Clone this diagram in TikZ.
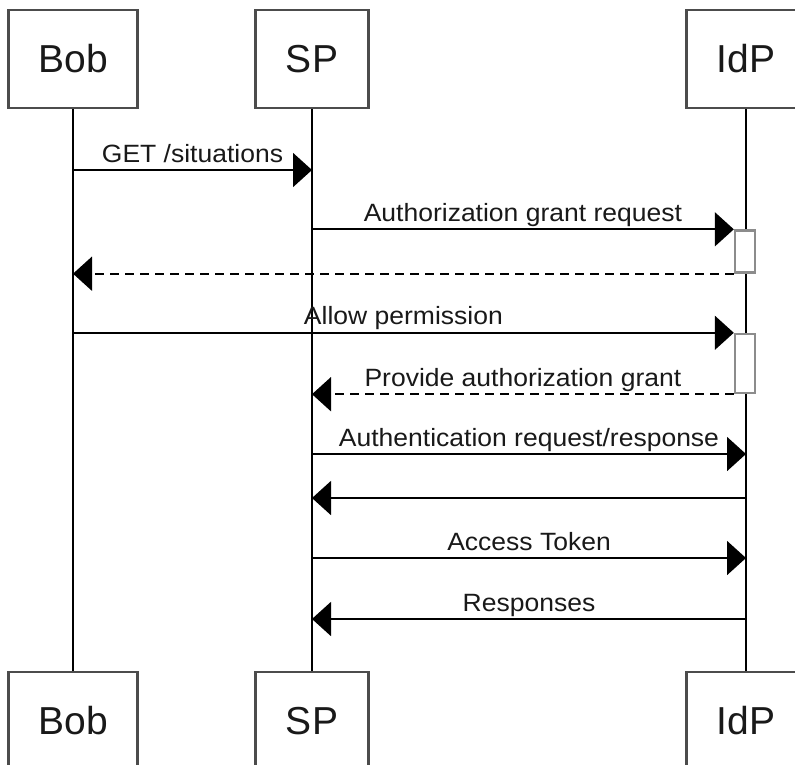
\documentclass[tikz,border=0pt]{standalone}
\usepackage{fontspec}
\setmainfont{Liberation Sans}
\newfontfamily\msgfont[FakeStretch=1.06]{Liberation Sans}
\usetikzlibrary{arrows.meta}
\begin{document}
\begin{tikzpicture}[x=1pt,y=-1pt,
  actor/.style={draw=black!70, line width=2.2pt, fill=white, minimum height=98pt,
    inner sep=0pt, text=black!90, font=\fontsize{39}{47}\selectfont},
  life/.style={line width=2pt},
  msg/.style={line width=1.8pt, -{Triangle[length=19pt,width=34pt]}},
  ret/.style={msg, dash pattern=on 9pt off 6pt},
  act/.style={draw=black!45, line width=2.4pt, fill=white, minimum width=20pt, inner sep=0pt},
  lbl/.style={anchor=base, inner sep=0pt, yshift=8pt, text=black!90,
    font=\msgfont\fontsize{25}{30}\selectfont}]
\useasboundingbox (0,0) rectangle (795,764);
\clip (0,0) rectangle (795,764);

% participants, top and bottom
\node[actor, minimum width=129pt] (bobT) at (73,59) {Bob};
\node[actor, minimum width=113pt] (spT)  at (312,59) {SP};
\node[actor, minimum width=119pt] (idpT) at (746,59) {IdP};
\node[actor, minimum width=129pt] (bobB) at (73,721) {Bob};
\node[actor, minimum width=113pt] (spB)  at (312,721) {SP};
\node[actor, minimum width=119pt] (idpB) at (746,721) {IdP};

% lifelines
\draw[life] (bobT.south) -- (bobB.north);
\draw[life] (spT.south) -- (spB.north);
\draw[life] (idpT.south) -- (idpB.north);

% activation bars on the IdP lifeline
\node[act, minimum height=42pt] (act1) at (745,251.5) {};
\node[act, minimum height=59pt] (act2) at (745,363.5) {};

% message rows
\coordinate (m1) at (0,170);
\coordinate (m6) at (0,454);
\coordinate (m7) at (0,498);
\coordinate (m8) at (0,558);
\coordinate (m9) at (0,619);

\draw[msg] (bobT |- m1) -- node[lbl, midway] {GET /situations} (spT |- m1);
\draw[msg] (spT |- act1.north) -- node[lbl, midway] {Authorization grant request} (act1.north west);
\draw[ret] (act1.south west) -- (bobT |- act1.south);
\draw[msg] (bobT |- act2.north) -- node[lbl, midway] {Allow permission} (act2.north west);
\draw[ret] (act2.south west) -- node[lbl, midway] {Provide authorization grant} (spT |- act2.south);
\draw[msg] (spT |- m6) -- node[lbl, midway] {Authentication request/response} (idpT |- m6);
\draw[msg] (idpT |- m7) -- (spT |- m7);
\draw[msg] (spT |- m8) -- node[lbl, midway] {Access Token} (idpT |- m8);
\draw[msg] (idpT |- m9) -- node[lbl, midway] {Responses} (spT |- m9);
\end{tikzpicture}
\end{document}
